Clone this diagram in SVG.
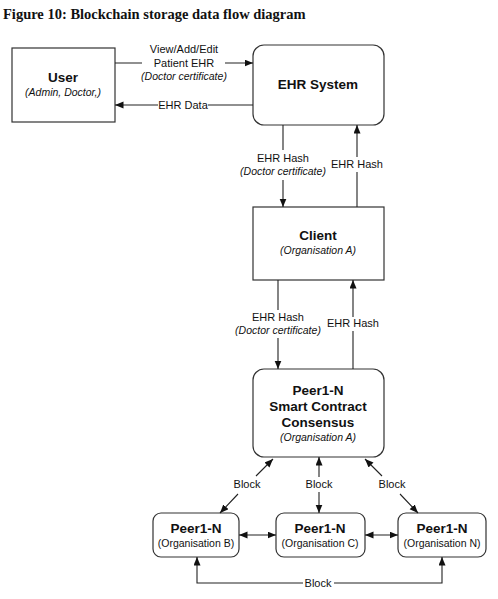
<svg xmlns="http://www.w3.org/2000/svg" width="498" height="599" viewBox="0 0 498 599">
<style>
.box{fill:#fff;stroke:#333;stroke-width:1.2}
.ln{fill:none;stroke:#222;stroke-width:1.1}
.t{font-family:"Liberation Sans",Arial,sans-serif;fill:#111;text-anchor:middle}
.b{font-weight:bold;font-size:13.5px}
.i{font-style:italic;font-size:10.5px}
.r{font-size:10.5px}
.l{font-size:11px}
.title{font-family:"Liberation Serif","Times New Roman",serif;font-weight:bold;font-size:14.5px;fill:#111}
</style>
<defs>
<marker id="ah" markerUnits="userSpaceOnUse" markerWidth="9" markerHeight="8" refX="8.5" refY="3.5" orient="auto-start-reverse">
<path d="M0,0 L8.5,3.5 L0,7 z" fill="#111"/>
</marker>
</defs>
<rect width="498" height="599" fill="#fff"/>
<text class="title" x="3" y="19">Figure 10: Blockchain storage data flow diagram</text>

<g id="user">
<rect class="box" x="12" y="48" width="103" height="74"/>
<text class="t b" x="63" y="82">User</text>
<text class="t i" x="63" y="96">(Admin, Doctor,)</text>
</g>
<g id="ehr">
<rect class="box" x="253" y="45" width="131" height="80" rx="11"/>
<text class="t b" x="318" y="89">EHR System</text>
</g>
<g id="client">
<rect class="box" x="253" y="207" width="131" height="73"/>
<text class="t b" x="318" y="240">Client</text>
<text class="t i" x="318" y="254">(Organisation A)</text>
</g>
<g id="peerA">
<rect class="box" x="253" y="369" width="131" height="88" rx="11"/>
<text class="t b" x="318" y="395">Peer1-N</text>
<text class="t b" x="318" y="411">Smart Contract</text>
<text class="t b" x="318" y="427">Consensus</text>
<text class="t i" x="318" y="441">(Organisation A)</text>
</g>
<g id="peerB">
<rect class="box" x="153" y="513" width="86" height="44" rx="8"/>
<text class="t b" x="196" y="533">Peer1-N</text>
<text class="t r" x="196" y="547">(Organisation B)</text>
</g>
<g id="peerC">
<rect class="box" x="276" y="513" width="89" height="44" rx="8"/>
<text class="t b" x="320" y="533">Peer1-N</text>
<text class="t r" x="320" y="547">(Organisation C)</text>
</g>
<g id="peerN">
<rect class="box" x="398" y="513" width="88" height="44" rx="8"/>
<text class="t b" x="442" y="533">Peer1-N</text>
<text class="t r" x="442" y="547">(Organisation N)</text>
</g>

<g id="connectors">
<path class="ln" d="M115,63 H142 M225,63 H253" marker-end="url(#ah)"/>
<text class="t l" x="184" y="53">View/Add/Edit</text>
<text class="t l" x="184" y="67">Patient EHR</text>
<text class="t i" x="184" y="80">(Doctor certificate)</text>

<path class="ln" d="M253,105 H208 M158,105 H115" marker-end="url(#ah)"/>
<text class="t l" x="183" y="109">EHR Data</text>

<path class="ln" d="M283,125 V150 M283,180 V207" marker-end="url(#ah)"/>
<text class="t l" x="283" y="162">EHR Hash</text>
<text class="t i" x="283" y="175">(Doctor certificate)</text>

<path class="ln" d="M357,207 V172 M357,157 V125" marker-end="url(#ah)"/>
<text class="t l" x="357" y="168">EHR Hash</text>

<path class="ln" d="M278,280 V310 M278,338 V369" marker-end="url(#ah)"/>
<text class="t l" x="278" y="321">EHR Hash</text>
<text class="t i" x="278" y="334">(Doctor certificate)</text>

<path class="ln" d="M353,369 V331 M353,317 V280" marker-end="url(#ah)"/>
<text class="t l" x="353" y="327">EHR Hash</text>

<path class="ln" d="M273,459 L256,476 M238,494 L220,513" marker-start="url(#ah)" marker-end="url(#ah)"/>
<text class="t l" x="247" y="488">Block</text>

<path class="ln" d="M319,457 V477 M319,492 V513" marker-start="url(#ah)" marker-end="url(#ah)"/>
<text class="t l" x="319" y="488">Block</text>

<path class="ln" d="M365,459 L382,476 M400,494 L418,513" marker-start="url(#ah)" marker-end="url(#ah)"/>
<text class="t l" x="392" y="488">Block</text>

<path class="ln" d="M239,535 H276" marker-start="url(#ah)" marker-end="url(#ah)"/>
<path class="ln" d="M365,535 H398" marker-start="url(#ah)" marker-end="url(#ah)"/>

<path class="ln" d="M197,557 V583 H303 M334,583 H442 V557" marker-start="url(#ah)" marker-end="url(#ah)"/>
<text class="t l" x="318" y="587">Block</text>
</g>
</svg>
